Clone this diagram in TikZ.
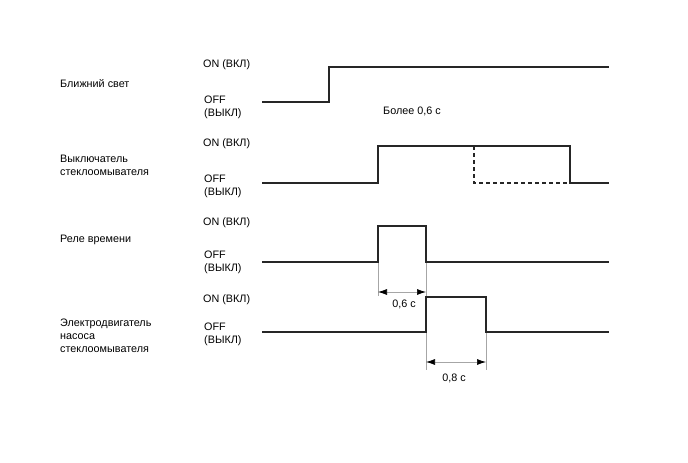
\documentclass[tikz,border=0pt]{standalone}
\usepackage{fontspec}
\setmainfont{Liberation Sans}
\usetikzlibrary{arrows.meta}
\begin{document}
\begin{tikzpicture}[x=1pt, y=-1pt]
  \tikzset{
    sig_line/.style={line width=1.3pt, draw=black!85},
    dash_line/.style={sig_line, dash pattern=on 4pt off 3pt},
    ext_line/.style={line width=0.7pt, draw=black!35},
    dim_line/.style={line width=0.7pt, draw=black!35, {Latex[length=9pt,width=6pt,black]}-{Latex[length=9pt,width=6pt,black]}},
    txt/.style={font=\fontsize{10.8}{13}\selectfont, inner sep=0pt, anchor=west, align=left}
  }
  \useasboundingbox (0,0) rectangle (688,463);

  % Названия сигналов
  \node[txt] (name_a) at (60,84) {Ближний свет};
  \node[txt] (name_b) at (60,165.5) {Выключатель\\стеклоомывателя};
  \node[txt] (name_c) at (60,240) {Реле времени};
  \node[txt] (name_d) at (60,336) {Электродвигатель\\насоса\\стеклоомывателя};

  % Уровни ON / OFF
  \node[txt] (on_a) at (203,65) {ON (ВКЛ)};
  \node[txt] (off_a) at (204,107.5) {OFF\\(ВЫКЛ)};
  \node[txt] (on_b) at (203,144) {ON (ВКЛ)};
  \node[txt] (off_b) at (204,186.5) {OFF\\(ВЫКЛ)};
  \node[txt] (on_c) at (203,223) {ON (ВКЛ)};
  \node[txt] (off_c) at (204,262) {OFF\\(ВЫКЛ)};
  \node[txt] (on_d) at (203,300) {ON (ВКЛ)};
  \node[txt] (off_d) at (204,334) {OFF\\(ВЫКЛ)};

  % Диаграммы
  \draw[sig_line] (262,102) -- (329,102) -- (329,67) -- (609,67);
  \draw[sig_line] (262,183) -- (378,183) -- (378,146) -- (570,146) -- (570,183) -- (609,183);
  \draw[dash_line] (474,146) -- (474,183) -- (570,183);
  \draw[sig_line] (262,262) -- (378,262) -- (378,226) -- (426,226) -- (426,262) -- (609,262);
  \draw[sig_line] (262,332) -- (426,332) -- (426,297) -- (486,297) -- (486,332) -- (609,332);

  \node[txt] (more) at (383,111) {Более 0,6 с};

  % Размеры
  \coordinate (e1) at (378,296);
  \coordinate (e2) at (426,296);
  \coordinate (e3) at (426,370);
  \coordinate (e4) at (486,370);
  \draw[ext_line] (378,263) -- (e1);
  \draw[ext_line] (426,263) -- (e2);
  \draw[ext_line] (426,333) -- (e3);
  \draw[ext_line] (486,333) -- (e4);
  \draw[dim_line] ([yshift=4pt]e1) -- ([yshift=4pt]e2);
  \draw[dim_line] ([yshift=8pt]e3) -- ([yshift=8pt]e4);
  \node[txt, anchor=center] (t06) at (404,304) {0,6 с};
  \node[txt, anchor=center] (t08) at (454,378) {0,8 с};
\end{tikzpicture}
\end{document}
